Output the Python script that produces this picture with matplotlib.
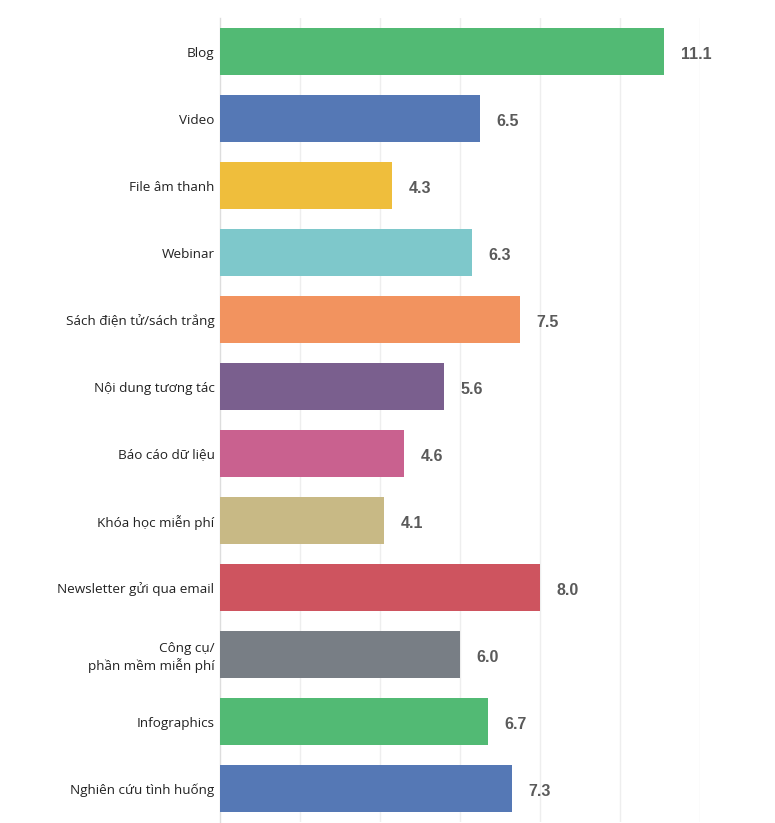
import numpy as np
import matplotlib.pyplot as plt
from matplotlib import font_manager

categories = [
    "Blog", "Video", "File âm thanh", "Webinar", "Sách điện tử/sách trắng",
    "Nội dung tương tác", "Báo cáo dữ liệu", "Khóa học miễn phí",
    "Newsletter gửi qua email", "Công cụ/\nphần mềm miễn phí",
    "Infographics", "Nghiên cứu tình huống",
]
values = [11.1, 6.5, 4.3, 6.3, 7.5, 5.6, 4.6, 4.1, 8.0, 6.0, 6.7, 7.3]
colors = [
    "#52BA74", "#5578B5", "#EFBE3C", "#7EC8CB", "#F2935F", "#7A5F8E",
    "#C9618F", "#C8B985", "#CE545F", "#787E85", "#52BA74", "#5578B5",
]
grid_ticks = [2, 4, 6, 8, 10, 12]

names = {f.name for f in font_manager.fontManager.ttflist}
label_font = "Liberation Sans Narrow" if "Liberation Sans Narrow" in names else "Open Sans"

fig = plt.figure(figsize=(7.75, 8.23), dpi=100)
ax = fig.add_axes([220 / 775, 1 - 822 / 823, 480 / 775, 804 / 823])

y = np.arange(len(categories))
ax.barh(y, values, height=0.7, color=colors, zorder=3)

ax.set_xlim(0, 12)
ax.set_ylim(len(categories) - 0.5, -0.5)
ax.set_xticks(grid_ticks)
ax.xaxis.grid(True, color="#eeeeee", linewidth=1)
ax.tick_params(axis="x", length=0, labelbottom=False)
ax.tick_params(axis="y", length=0, pad=4)
ax.set_yticks(y)
ax.set_yticklabels(categories, fontsize=9.7, family=[label_font, "DejaVu Sans"],
                   color="#222222", ha="right", multialignment="right",
                   linespacing=1.25)

for s in ["top", "right", "bottom"]:
    ax.spines[s].set_visible(False)
ax.spines["left"].set_color("#dddddd")
ax.spines["left"].set_linewidth(1)

for yi, v in zip(y, values):
    ax.annotate(f"{v:.1f}", (v, yi), xytext=(12, -2), textcoords="offset points",
                ha="left", va="center", fontsize=11.5, fontweight="bold",
                family="Liberation Sans", color="#5a5a5a")

fig.savefig("out.png", dpi=100)
